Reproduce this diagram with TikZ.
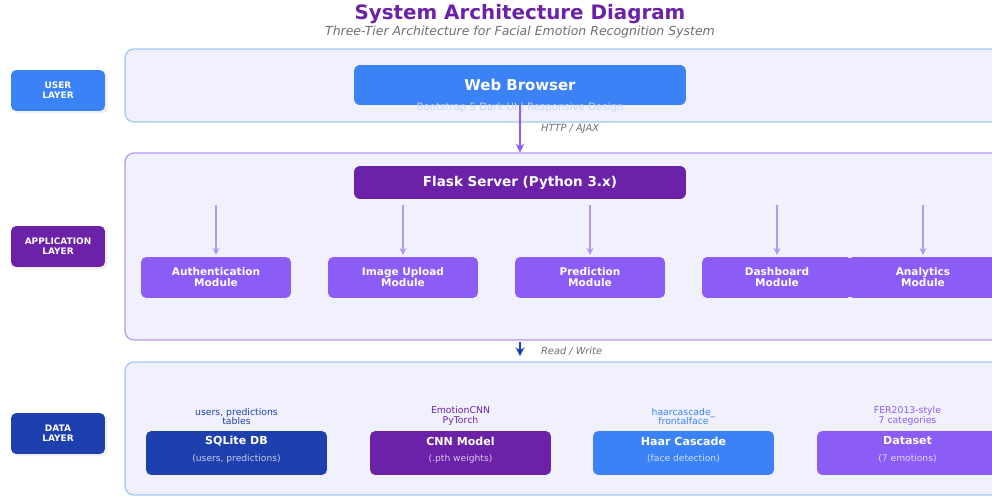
\documentclass[tikz,border=0pt]{standalone}
\usepackage{fontspec}
\setmainfont{DejaVu Sans}
\usetikzlibrary{arrows.meta,positioning,shadows}
\definecolor{userblue}{HTML}{3B82F6}
\definecolor{apppurple}{HTML}{6B21A8}
\definecolor{modviolet}{HTML}{8B5CF6}
\definecolor{datablue}{HTML}{1E40AF}
\definecolor{panelfill}{RGB}{241,240,253}
\definecolor{edgeblue}{RGB}{160,200,245}
\definecolor{edgeviolet}{RGB}{180,150,245}
\definecolor{subgray}{RGB}{110,110,120}

\begin{document}
\begin{tikzpicture}[x=0.02cm, y=-0.02cm,
  panel/.style={draw, line width=0.7pt, rounded corners=5pt, fill=panelfill,
    minimum width=17.5cm, inner sep=0pt},
  tag/.style={rounded corners=3pt, minimum width=1.88cm, minimum height=0.82cm,
    text=white, align=center, font=\fontsize{5.1}{5.5}\selectfont\bfseries,
    drop shadow={opacity=0.12, shadow xshift=1.5pt, shadow yshift=-1.2pt}},
  mainbox/.style={rounded corners=3.5pt, minimum width=6.64cm, text=white},
  modbox/.style={rounded corners=3pt, fill=modviolet, minimum width=3cm,
    minimum height=0.82cm, text=white, align=center,
    font=\fontsize{6}{6.2}\selectfont\bfseries},
  dbox/.style={rounded corners=3pt, minimum width=3.62cm, minimum height=0.88cm},
  dtitle/.style={text=white, font=\fontsize{6.3}{7}\selectfont\bfseries},
  dsub/.style={text=white, opacity=0.75, font=\fontsize{5.2}{6}\selectfont},
  dnote/.style={align=center, font=\fontsize{5.3}{5.4}\selectfont, inner sep=1pt},
  ar/.style={-{Stealth[length=5pt,width=5pt]}, line width=1.4pt},
  thin/.style={-{Stealth[length=4pt,width=4pt]}, line width=0.7pt, edgeviolet},
  lbl/.style={text=subgray, font=\fontsize{5.6}{6}\selectfont\itshape}
]
  \clip (0,0) rectangle (992,497);
  \fill[white] (0,0) rectangle (992,497);

  % title
  \node[text=apppurple, font=\fontsize{11.3}{12}\selectfont\bfseries] (ttl) at (520,14)
    {System Architecture Diagram};
  \node[text=subgray, font=\fontsize{7.1}{8}\selectfont\itshape] (sub) at (520,32)
    {Three-Tier Architecture for Facial Emotion Recognition System};

  % panels
  \node[panel, draw=edgeblue, minimum height=1.46cm] (up) at (562.5,85.5) {};
  \node[panel, draw=edgeviolet, minimum height=3.74cm] (ap) at (562.5,246.5) {};
  \node[panel, draw=edgeblue, minimum height=2.66cm] (dp) at (562.5,428.5) {};

  % layer tags
  \node[tag, fill=userblue] (ul) at (58,90.5) {USER\\LAYER};
  \node[tag, fill=apppurple] (al) at (58,246.5) {APPLICATION\\LAYER};
  \node[tag, fill=datablue] (dl) at (58,433.5) {DATA\\LAYER};

  % user layer
  \node[mainbox, fill=userblue, minimum height=0.8cm,
    font=\fontsize{8.5}{9}\selectfont\bfseries] (wb) at (520,85) {Web Browser};
  \node[text={rgb,255:red,200;green,215;blue,250}, font=\fontsize{5.8}{6}\selectfont] (wbs)
    at (520,108) {Bootstrap 5 Dark UI | Responsive Design};

  % application layer
  \node[mainbox, fill=apppurple, minimum height=0.66cm,
    font=\fontsize{7.7}{9}\selectfont\bfseries] (fl) at (520,182.5)
    {Flask Server (Python 3.x)};
  \node[modbox] (am) at (216,277.5) {Authentication\\Module};
  \node[modbox] (im) at (403,277.5) {Image Upload\\Module};
  \node[modbox] (pm) at (590,277.5) {Prediction\\Module};
  \node[modbox] (dm) at (777,277.5) {Dashboard\\Module};
  \node[modbox] (nm) at (923,277.5) {Analytics\\Module};

  \draw[ar, modviolet] (wb.south) -- (wb.south |- ap.north)
    node[lbl, pos=0.5, right=8pt] {HTTP / AJAX};
  \foreach \m in {am,im,pm,dm,nm}
    \draw[thin, shorten <=3pt, shorten >=1pt] (fl.south -| \m) -- (\m);

  \draw[ar, datablue, shorten <=1pt, shorten >=3pt] (ap.south -| wb.south) -- (dp.north -| wb.south)
    node[lbl, pos=0.5, right=8pt] {Read / Write};

  % data layer
  \node[dbox, fill=datablue] (db) at (236.5,453) {};
  \node[dbox, fill=apppurple] (cm) at (460.5,453) {};
  \node[dbox, fill=userblue] (hc) at (683.5,453) {};
  \node[dbox, fill=modviolet] (ds) at (907.5,453) {};

  \node[dtitle] (dbt) at (236.5,441) {SQLite DB};
  \node[dsub] (dbs) at (236.5,459) {(users, predictions)};
  \node[dtitle] (cmt) at (460.5,441) {CNN Model};
  \node[dsub] (cms) at (460.5,459) {(.pth weights)};
  \node[dtitle] (hct) at (683.5,441) {Haar Cascade};
  \node[dsub] (hcs) at (683.5,459) {(face detection)};
  \node[dtitle] (dst) at (907.5,441) {Dataset};
  \node[dsub] (dss) at (907.5,459) {(7 emotions)};

  \node[dnote, text=datablue, above=2pt of db] (dbn) {users, predictions\\tables};
  \node[dnote, text=apppurple, above=2pt of cm] (cmn) {EmotionCNN\\PyTorch};
  \node[dnote, text=userblue, above=2pt of hc] (hcn) {haarcascade\_\\frontalface};
  \node[dnote, text=modviolet, above=2pt of ds] (dsn) {FER2013-style\\7 categories};
\end{tikzpicture}
\end{document}
